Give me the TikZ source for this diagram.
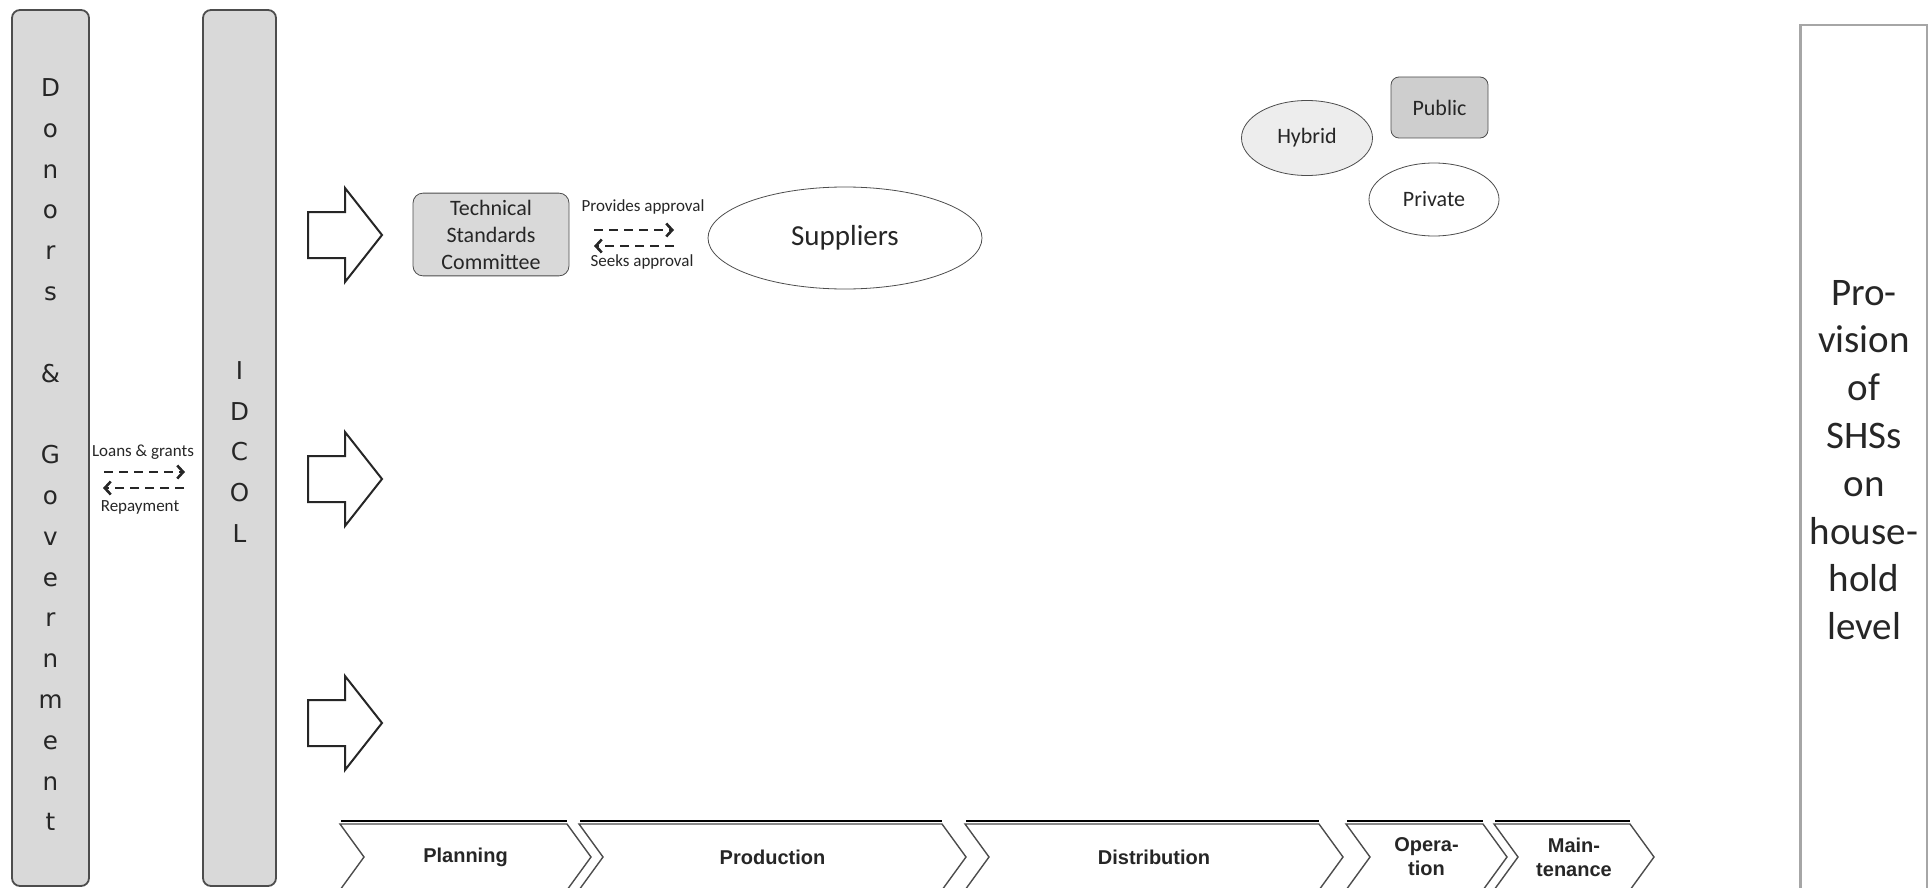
\documentclass[tikz,border=0pt]{standalone}
\usepackage{fontspec}
\setmainfont{Carlito}
\newfontfamily\barfont{DejaVu Sans}
\newfontfamily\stagefont{Liberation Sans}
\usepackage{tikz}
\usetikzlibrary{arrows.meta,positioning,shapes.geometric}
\definecolor{ink}{HTML}{262626}
\definecolor{edge}{HTML}{4D4D4D}
\definecolor{shade}{HTML}{A6A6A6}
\definecolor{barfill}{HTML}{D9D9D9}
\definecolor{palegray}{HTML}{EDEDED}

\begin{document}
\begin{tikzpicture}[x=0.5pt,y=-0.5pt,
  bar/.style={draw=edge,line width=0.9pt,rounded corners=4pt,fill=barfill,minimum height=438pt},
  bartext/.style={align=center,text=ink,inner sep=0pt,font=\barfont\fontsize{12.3}{20.4}\selectfont},
  endbox/.style={draw=shade,line width=1.3pt,fill=white,align=center,text=ink,
              minimum width=63.5pt,minimum height=435pt,inner sep=0pt,
              font=\fontsize{19.5}{23.9}\selectfont},
  box/.style={draw=edge,rounded corners=5pt,fill=barfill,align=center,text=ink,
              font=\fontsize{11}{13.5}\selectfont},
  oval/.style={draw=edge,ellipse,align=center,text=ink,inner sep=0pt,
              font=\fontsize{11}{13.5}\selectfont},
  lbl/.style={text=ink,inner sep=0pt,font=\fontsize{8.5}{10}\selectfont},
  flow/.style={-{Straight Barb[length=3pt,width=6.5pt]},line width=1.3pt,color=ink,
              dash pattern=on 4.5pt off 3pt},
  bigarrow/.style={draw=black!85,line width=1pt,fill=white},
  chev/.style={draw=edge,line width=0.7pt,fill=white},
  stagetext/.style={align=center,text=ink,inner sep=0pt,
              font=\stagefont\bfseries\fontsize{10}{12}\selectfont}
]
\useasboundingbox (0,0) rectangle (1928,888);

% actors
\node[bar,minimum width=38.5pt] (donors) at (50.5,448) {};
\node[bartext,yshift=-3.4pt] (donorsname) at (donors.center)
  {D\\o\\n\\o\\r\\s\\[20.4pt]\&\\[20.4pt]G\\o\\v\\e\\r\\n\\m\\e\\n\\t};
\node[bar,minimum width=36.5pt] (idcol) at (239.5,448) {};
\node[bartext,yshift=-2pt] (idcolname) at (idcol.center) {I\\D\\C\\O\\L};
\node[endbox] (shs) at (1864,460)
  {Pro-\\vision\\of\\SHSs\\on\\house-\\hold\\level};

% money flows
\coordinate (loan0) at (104,472);
\coordinate (loan1) at (185,472);
\coordinate (pay0) at (184,488);
\coordinate (pay1) at (103,488);
\node[lbl] (loans) at (143,452) {Loans \& grants};
\node[lbl] (repay) at (140,507) {Repayment};
\draw[flow] (loan0)--(loan1);
\draw[flow] (pay0)--(pay1);

% block arrows out of IDCOL
\foreach \ya in {235,479,723}
  \draw[bigarrow] (308,\ya-23) -- (345,\ya-23) -- (345,\ya-47) -- (382,\ya)
    -- (345,\ya+47) -- (345,\ya+23) -- (308,\ya+23) -- cycle;

% standards
\node[box,minimum width=78pt,minimum height=40.5pt] (tsc) at (491,234.5)
  {Technical\\Standards\\Committee};
\node[oval,minimum width=137pt,minimum height=51pt,font=\fontsize{14.5}{16}\selectfont]
  (suppliers) at (845,238) {Suppliers};
\coordinate (prov0) at (594,230);
\coordinate (prov1) at (674,230);
\coordinate (seek0) at (674,246);
\coordinate (seek1) at (594,246);
\node[lbl] (provides) at (643,207) {Provides approval};
\node[lbl] (seeks) at (642,262) {Seeks approval};
\draw[flow] (prov0)--(prov1);
\draw[flow] (seek0)--(seek1);

% ownership
\node[oval,fill=palegray,minimum width=65.5pt,minimum height=37.5pt] (hybrid) at (1307,138) {Hybrid};
\node[box,rounded corners=4pt,fill=barfill!95!black,minimum width=48.5pt,minimum height=30.5pt]
  (public) at (1439.5,107.5) {Public};
\node[oval,fill=white,minimum width=65pt,minimum height=36.5pt] (private) at (1434,199.5) {Private};

% value chain
\foreach \l/\r/\stage in {340/567/Planning,579/942/Production,965/1319/Distribution,
                           1346/1483/{Opera-\\tion},1494/1630/{Main-\\tenance}}{
  \draw[shade,line width=1pt] (\l+1,821) -- (\r,821);
  \draw[chev] (\l,824) -- (\r,824) -- (\r+24,857) -- (\r,890) -- (\l,890) -- (\l+24,857) -- cycle;
  \node[stagetext] (stage\l) at ({(\l+\r+24)/2},857) {\stage};
}
\end{tikzpicture}
\end{document}
